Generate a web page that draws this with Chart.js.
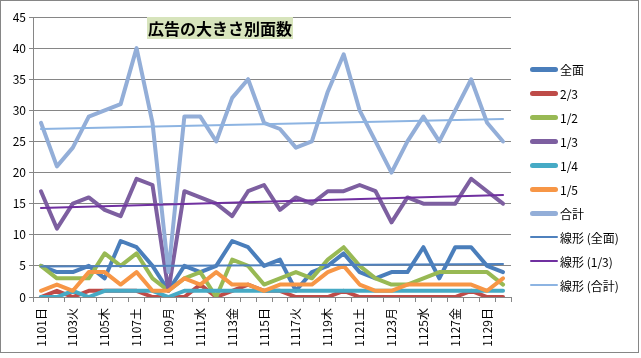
<!DOCTYPE html>
<html>
<head>
  <meta charset="utf-8" />
  <title>広告の大きさ別面数</title>
  <script src="https://cdn.jsdelivr.net/npm/chart.js@4"></script>
  <style>
    body { margin: 0; background: #fff; }
    #wrap { position: relative; width: 641px; height: 358px; font-family: "Noto Sans CJK JP", sans-serif; }
    #title {
      position: absolute; left: 147px; top: 17px; width: 146px; height: 22px;
      background: #d7e4bc; color: #000; font-size: 16px; font-weight: bold;
      line-height: 22px; text-align: center; white-space: nowrap;
    }
    #legend { position: absolute; left: 530px; top: 57px; font-size: 12px; color: #000; }
    .item { height: 24px; display: flex; align-items: center; }
    .swatch { width: 28px; margin-right: 2px; border-radius: 3px; }
  </style>
</head>
<body>
  <div id="wrap">
    <canvas id="adChart" width="641" height="358"></canvas>
    <div id="title">広告の大きさ別面数</div>
    <div id="legend"></div>
  </div>
  <script>
    var days = ['1101日','1102月','1103火','1104水','1105木','1106金','1107土','1108日','1109月','1110火',
                '1111水','1112木','1113金','1114土','1115日','1116月','1117火','1118水','1119木','1120金',
                '1121土','1122日','1123月','1124火','1125水','1126木','1127金','1128土','1129日','1130月'];

    // pages per day, by ad size
    var zenmen  = [5,4,4,5,3,9,8,5,1,5, 4,5,9,8,5,6,1,4,5,7, 4,3,4,4,8,3,8,8,5,4];
    var size23  = [0,1,0,1,1,1,1,0,0,0, 2,0,1,2,1,1,0,0,0,1, 0,0,0,0,0,0,0,1,0,0];
    var size12  = [5,3,3,3,7,5,7,3,1,3, 4,0,6,5,2,3,4,3,6,8, 5,3,2,2,3,4,4,4,4,2];
    var size13  = [17,11,15,16,14,13,19,18,1,17, 16,15,13,17,18,14,16,15,17,17, 18,17,12,16,15,15,15,19,17,15];
    var size14  = [0,0,1,0,1,1,1,1,0,1, 1,1,1,1,1,1,1,1,1,1, 1,1,1,1,1,1,1,1,1,1];
    var size15  = [1,2,1,4,4,2,4,1,1,3, 2,4,2,2,1,2,2,2,4,5, 2,1,1,2,2,2,2,2,1,3];
    var goukei  = [28,21,24,29,30,31,40,28,4,29, 29,25,32,35,28,27,24,25,33,39, 30,25,20,25,29,25,30,35,28,25];

    // linear trend lines, value at first and last day
    var trendZenmen = [4.9, 5.3];
    var trendSize13 = [14.3, 16.4];
    var trendGoukei = [27.0, 28.6];

    var seriesNames = ['全面','2/3','1/2','1/3','1/4','1/5','合計'];
    var trendNames = ['線形 (全面)','線形 (1/3)','線形 (合計)'];

    var colors = ['#4a7ebb','#be4b48','#98b954','#7d5fa0','#46aac5','#f79646','#93aed8'];
    var trendColors = ['#4f81bd','#7030a0','#8db4e2'];

    Chart.defaults.font.family = '"Noto Sans CJK JP", sans-serif';
    Chart.defaults.font.size = 12;
    Chart.defaults.color = '#000';

    function trendPoints(t) {
      return [{x: days[0], y: t[0]}, {x: days[days.length - 1], y: t[1]}];
    }

    var values = [zenmen, size23, size12, size13, size14, size15, goukei];
    var datasets = [];
    values.forEach(function(v, i) {
      datasets.push({
        label: seriesNames[i],
        data: v,
        borderColor: colors[i],
        borderWidth: 4
      });
    });
    [trendZenmen, trendSize13, trendGoukei].forEach(function(t, i) {
      datasets.push({
        label: trendNames[i],
        data: trendPoints(t),
        borderColor: trendColors[i],
        borderWidth: 2
      });
    });
    // later series drawn on top, like the spreadsheet
    datasets.forEach(function(d, i) {
      d.order = -i;
      d.pointRadius = 0;
      d.tension = 0;
      d.fill = false;
      d.borderJoinStyle = 'round';
      d.borderCapStyle = 'round';
    });

    var framePlugin = {
      id: 'frame',
      beforeDraw: function(chart) {
        var ctx = chart.ctx;
        ctx.save();
        ctx.fillStyle = '#fff';
        ctx.fillRect(0, 0, chart.width, chart.height);
        ctx.restore();
      },
      afterDraw: function(chart) {
        var ctx = chart.ctx;
        ctx.save();
        ctx.strokeStyle = '#868686';
        ctx.lineWidth = 1;
        ctx.strokeRect(0.5, 0.5, 638, 352);
        ctx.restore();
      }
    };

    var chart = new Chart(document.getElementById('adChart').getContext('2d'), {
      type: 'line',
      data: { labels: days, datasets: datasets },
      options: {
        responsive: false,
        animation: false,
        layout: { padding: { top: 17, right: 130, bottom: 0, left: 0 } },
        plugins: {
          legend: { display: false },
          title: { display: false },
          tooltip: { enabled: false }
        },
        scales: {
          x: {
            offset: true,
            grid: { offset: true, drawOnChartArea: false, color: '#868686', tickLength: 5 },
            border: { color: '#868686' },
            ticks: {
              autoSkip: false,
              minRotation: 90,
              maxRotation: 90,
              padding: 6,
              callback: function(val, i) {
                return i % 2 === 0 ? this.getLabelForValue(val) : '';
              }
            },
            afterFit: function(scale) { scale.height = 61; }
          },
          y: {
            min: 0,
            max: 45,
            ticks: { stepSize: 5, padding: 3 },
            grid: { color: '#868686', tickLength: 4 },
            border: { color: '#868686' },
            afterFit: function(scale) { scale.width = 33; }
          }
        }
      },
      plugins: [framePlugin]
    });

    // legend in the same order as the series
    var legend = document.getElementById('legend');
    chart.data.datasets.forEach(function(d) {
      var item = document.createElement('div');
      item.className = 'item';
      var sw = document.createElement('span');
      sw.className = 'swatch';
      sw.style.background = d.borderColor;
      sw.style.height = (d.borderWidth > 3 ? 5 : 2) + 'px';
      var txt = document.createElement('span');
      txt.textContent = d.label;
      item.appendChild(sw);
      item.appendChild(txt);
      legend.appendChild(item);
    });
  </script>
</body>
</html>
